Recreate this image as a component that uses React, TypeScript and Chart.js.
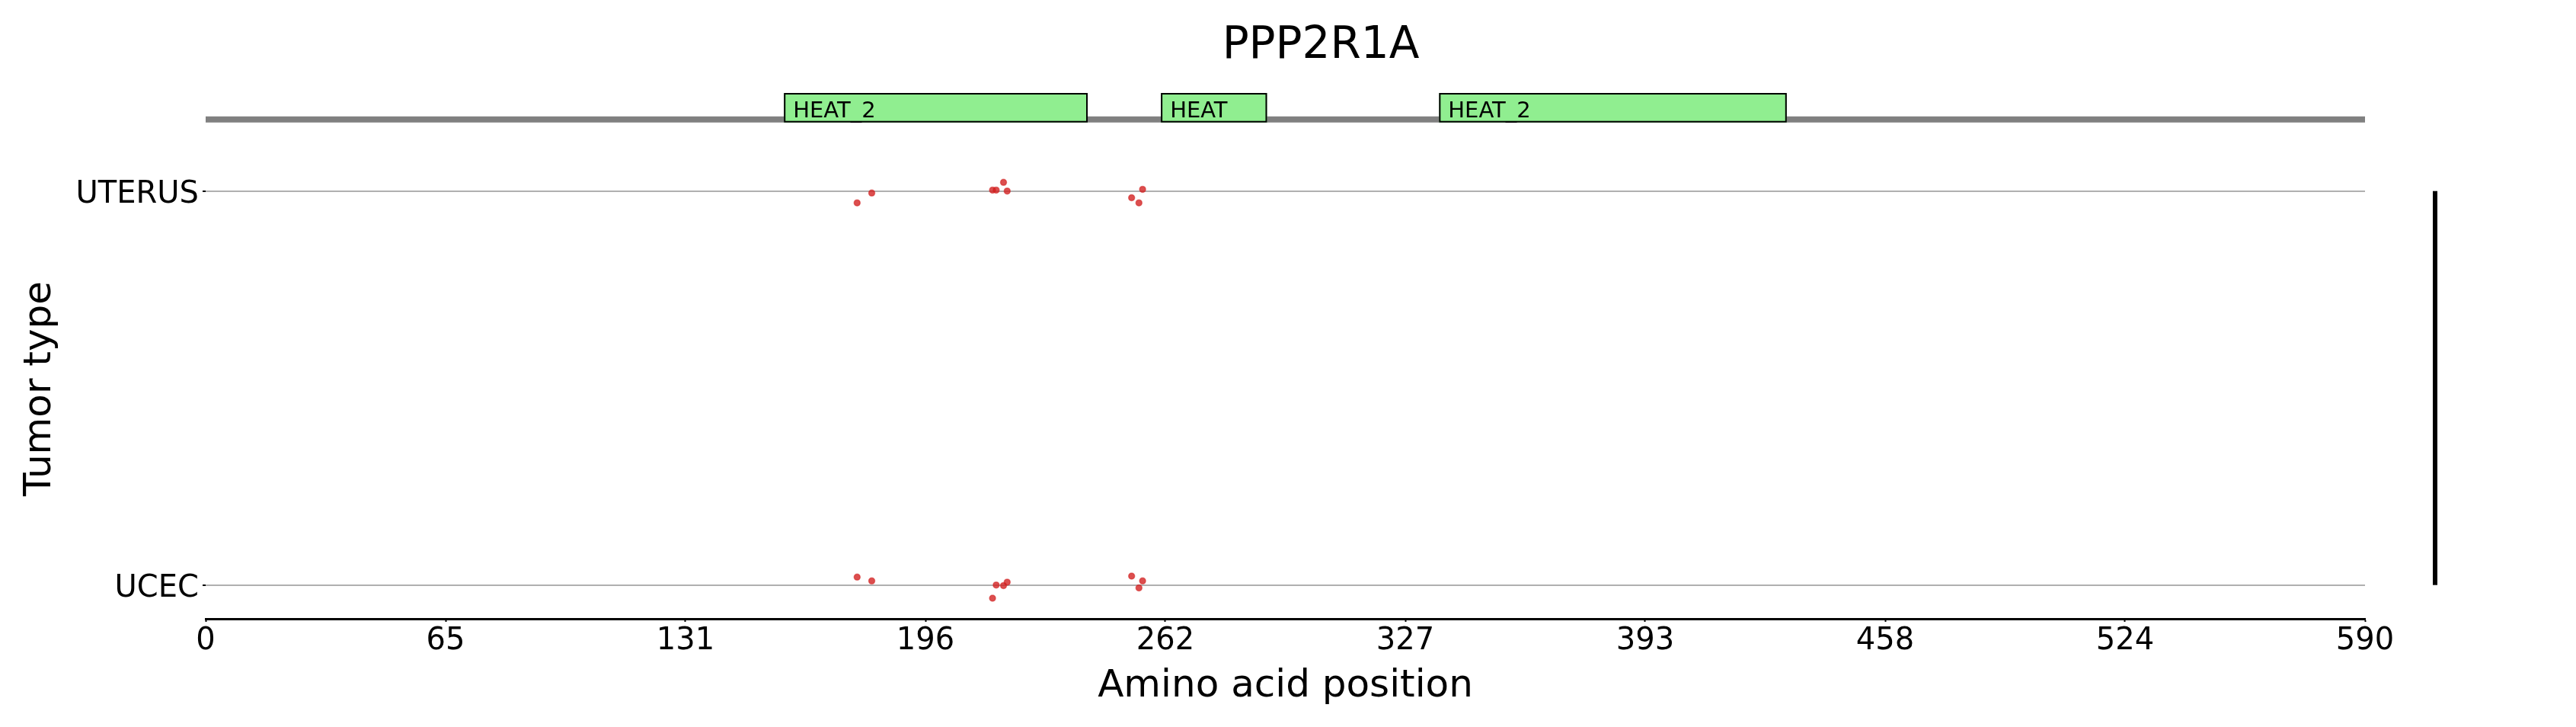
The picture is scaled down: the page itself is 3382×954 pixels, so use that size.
import React, { useEffect, useRef } from 'react';
import { Chart, registerables } from 'chart.js';

Chart.register(...registerables);

// ---- data ----
const GENE = 'PPP2R1A';
const PROTEIN_LENGTH = 590;
const tumorTypes = ['UTERUS', 'UCEC'];
const xTickValues = [0, 65.56, 131.11, 196.67, 262.22, 327.78, 393.33, 458.89, 524.44, 590];
const xTickLabels = ['0', '65', '131', '196', '262', '327', '393', '458', '524', '590'];
const domainNames = ['HEAT_2', 'HEAT', 'HEAT_2'];
const domainStarts = [158, 261, 337];
const domainEnds = [241, 290, 432];
const uterusPositions = [178, 182, 215, 216, 218, 219, 253, 255, 256];
const uterusJitter = [0.03, 0.005, -0.0025, -0.0025, -0.022, 0, 0.017, 0.03, -0.0045];
const ucecPositions = [178, 182, 215, 216, 218, 219, 253, 255, 256];
const ucecJitter = [-0.02, -0.0103, 0.0335, 0, 0.0014, -0.0072, -0.0226, 0.0072, -0.0103];

// ---- layout constants (in y-scale units / pixels) ----
const Y_MIN = -0.0826;
const Y_MAX = 1.0857;
const TRACK_Y = -0.1818;
const BOX_TOP = -0.2489;
const BOX_BOTTOM = -0.1741;
const FONT = '"DejaVu Sans", sans-serif';

const decorPlugin = {
  id: 'decor',
  afterDraw(chart: any) {
    const { ctx, chartArea } = chart;
    const x = chart.scales.x;
    const y = chart.scales.y;
    ctx.save();
    // protein backbone
    const ty = y.getPixelForValue(TRACK_Y);
    ctx.strokeStyle = '#808080';
    ctx.lineWidth = 8;
    ctx.beginPath();
    ctx.moveTo(x.getPixelForValue(0), ty);
    ctx.lineTo(x.getPixelForValue(PROTEIN_LENGTH), ty);
    ctx.stroke();
    // domains
    const top = y.getPixelForValue(BOX_TOP);
    const bot = y.getPixelForValue(BOX_BOTTOM);
    domainStarts.forEach((s, i) => {
      const x0 = x.getPixelForValue(s);
      const x1 = x.getPixelForValue(domainEnds[i]);
      ctx.fillStyle = '#90ee90';
      ctx.fillRect(x0, top, x1 - x0, bot - top);
      ctx.strokeStyle = '#000';
      ctx.lineWidth = 2;
      ctx.strokeRect(x0 + 1, top + 1, x1 - x0 - 2, bot - top - 2);
      ctx.fillStyle = '#000';
      ctx.font = `29px ${FONT}`;
      ctx.textAlign = 'left';
      ctx.textBaseline = 'alphabetic';
      ctx.fillText(domainNames[i], x0 + 12, top + 32);
    });
    // right-hand vertical bar spanning tumor types
    const bx = chartArea.right + 92;
    ctx.fillStyle = '#000';
    const y0 = y.getPixelForValue(0);
    const y1 = y.getPixelForValue(tumorTypes.length - 1);
    ctx.fillRect(bx - 3, y0, 6, y1 - y0);
    // title
    ctx.font = `58px ${FONT}`;
    ctx.textAlign = 'center';
    ctx.textBaseline = 'alphabetic';
    ctx.fillText(GENE, 1734, 76);
    ctx.restore();
  },
};

export default function App() {
  const ref = useRef<HTMLCanvasElement | null>(null);
  useEffect(() => {
    if (!ref.current) return;
    const pointStyle = {
      pointRadius: 4,
      pointBackgroundColor: 'rgba(210,30,30,0.78)',
      pointBorderColor: 'rgba(210,30,30,0.5)',
      pointBorderWidth: 1.5,
    };
    const chart = new Chart(ref.current, {
      type: 'scatter',
      data: {
        datasets: [
          {
            label: tumorTypes[0],
            data: uterusPositions.map((p, i) => ({ x: p, y: 0 + uterusJitter[i] })),
            ...pointStyle,
          },
          {
            label: tumorTypes[1],
            data: ucecPositions.map((p, i) => ({ x: p, y: 1 + ucecJitter[i] })),
            ...pointStyle,
          },
        ],
      },
      options: {
        animation: false,
        responsive: false,
        devicePixelRatio: 1,
        layout: { padding: { left: 0, right: 277, top: 208, bottom: 0 } },
        plugins: { legend: { display: false }, tooltip: { enabled: false }, title: { display: false } },
        scales: {
          x: {
            type: 'linear',
            min: 0,
            max: PROTEIN_LENGTH,
            afterBuildTicks: (scale: any) => {
              scale.ticks = xTickValues.map((v) => ({ value: v }));
            },
            afterFit: (scale: any) => {
              scale.height = 142;
            },
            ticks: {
              autoSkip: false,
              maxRotation: 0,
              minRotation: 0,
              color: '#000',
              padding: 2,
              font: { family: FONT, size: 40 },
              callback: (_v: any, i: number) => xTickLabels[i],
            },
            grid: { display: true, drawOnChartArea: false, drawTicks: true, tickLength: 4, tickColor: '#000', tickWidth: 2 },
            border: { display: true, color: '#000', width: 3 },
            title: {
              display: true,
              text: 'Amino acid position',
              color: '#000',
              font: { family: FONT, size: 50 },
              padding: { top: 0, bottom: 23 },
            },
          },
          y: {
            type: 'linear',
            reverse: true,
            min: Y_MIN,
            max: Y_MAX,
            afterBuildTicks: (scale: any) => {
              scale.ticks = tumorTypes.map((_t, i) => ({ value: i }));
            },
            afterFit: (scale: any) => {
              scale.width = 270;
            },
            ticks: {
              autoSkip: false,
              color: '#000',
              padding: 5,
              font: { family: FONT, size: 40, lineHeight: 0.25 },
              // leading empty line nudges the label down slightly to sit like the reference
              callback: (_v: any, i: number) => ['', tumorTypes[i]],
            },
            grid: { display: true, drawOnChartArea: true, drawTicks: true, tickLength: 4, color: '#b0b0b0', lineWidth: 2, tickColor: '#000', tickWidth: 2 },
            border: { display: false },
            title: {
              display: true,
              text: 'Tumor type',
              color: '#000',
              font: { family: FONT, size: 50 },
              padding: { top: 23, bottom: 0 },
            },
          },
        },
      },
      plugins: [decorPlugin],
    } as any);
    return () => chart.destroy();
  }, []);
  return (
    <div style={{ position: 'fixed', left: 0, top: 0, width: 3382, height: 954, background: '#fff' }}>
      <canvas ref={ref} width={3382} height={954} style={{ display: 'block' }} />
    </div>
  );
}
